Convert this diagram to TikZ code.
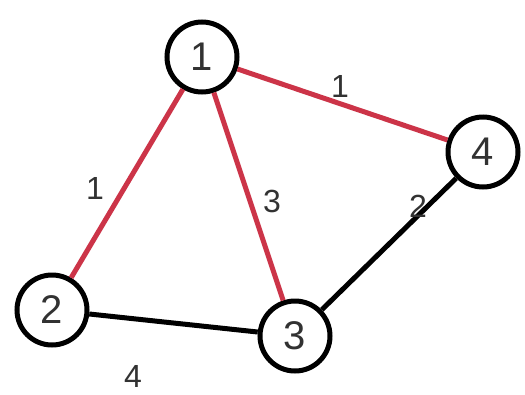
\documentclass[tikz,border=0pt]{standalone}
\usepackage{fontspec}
\setmainfont{Liberation Sans}
\definecolor{edgered}{RGB}{204,52,72}
\definecolor{txt}{RGB}{50,50,50}
\begin{document}
\begin{tikzpicture}[x=1pt,y=-1pt,
  vertex/.style={circle,draw=black,line width=5pt,fill=white,minimum size=70pt,inner sep=0pt,text=txt,font=\fontsize{40}{40}\selectfont},
  redge/.style={draw=edgered,line width=5pt},
  bedge/.style={draw=black,line width=5pt},
  wlabel/.style={text=txt,font=\fontsize{32}{32}\selectfont,inner sep=0pt}]
\useasboundingbox (0,0) rectangle (525,394);
\fill[white] (0,0) rectangle (525,394);
\node[vertex] (n1) at (202,57) {1};
\node[vertex] (n4) at (483,152) {4};
\node[vertex] (n2) at (52,310) {2};
\node[vertex] (n3) at (295,336) {3};
\draw[redge] (n1) -- (n4);
\draw[redge] (n1) -- (n2);
\draw[redge] (n1) -- (n3);
\draw[bedge] (n2) -- (n3);
\draw[bedge] (n3) -- (n4);
\node[wlabel] (l14) at (340,86) {1};
\node[wlabel] (l12) at (95,188) {1};
\node[wlabel] (l13) at (272,201) {3};
\node[wlabel] (l34) at (418,206) {2};
\node[wlabel] (l23) at (133,376) {4};
\end{tikzpicture}
\end{document}
